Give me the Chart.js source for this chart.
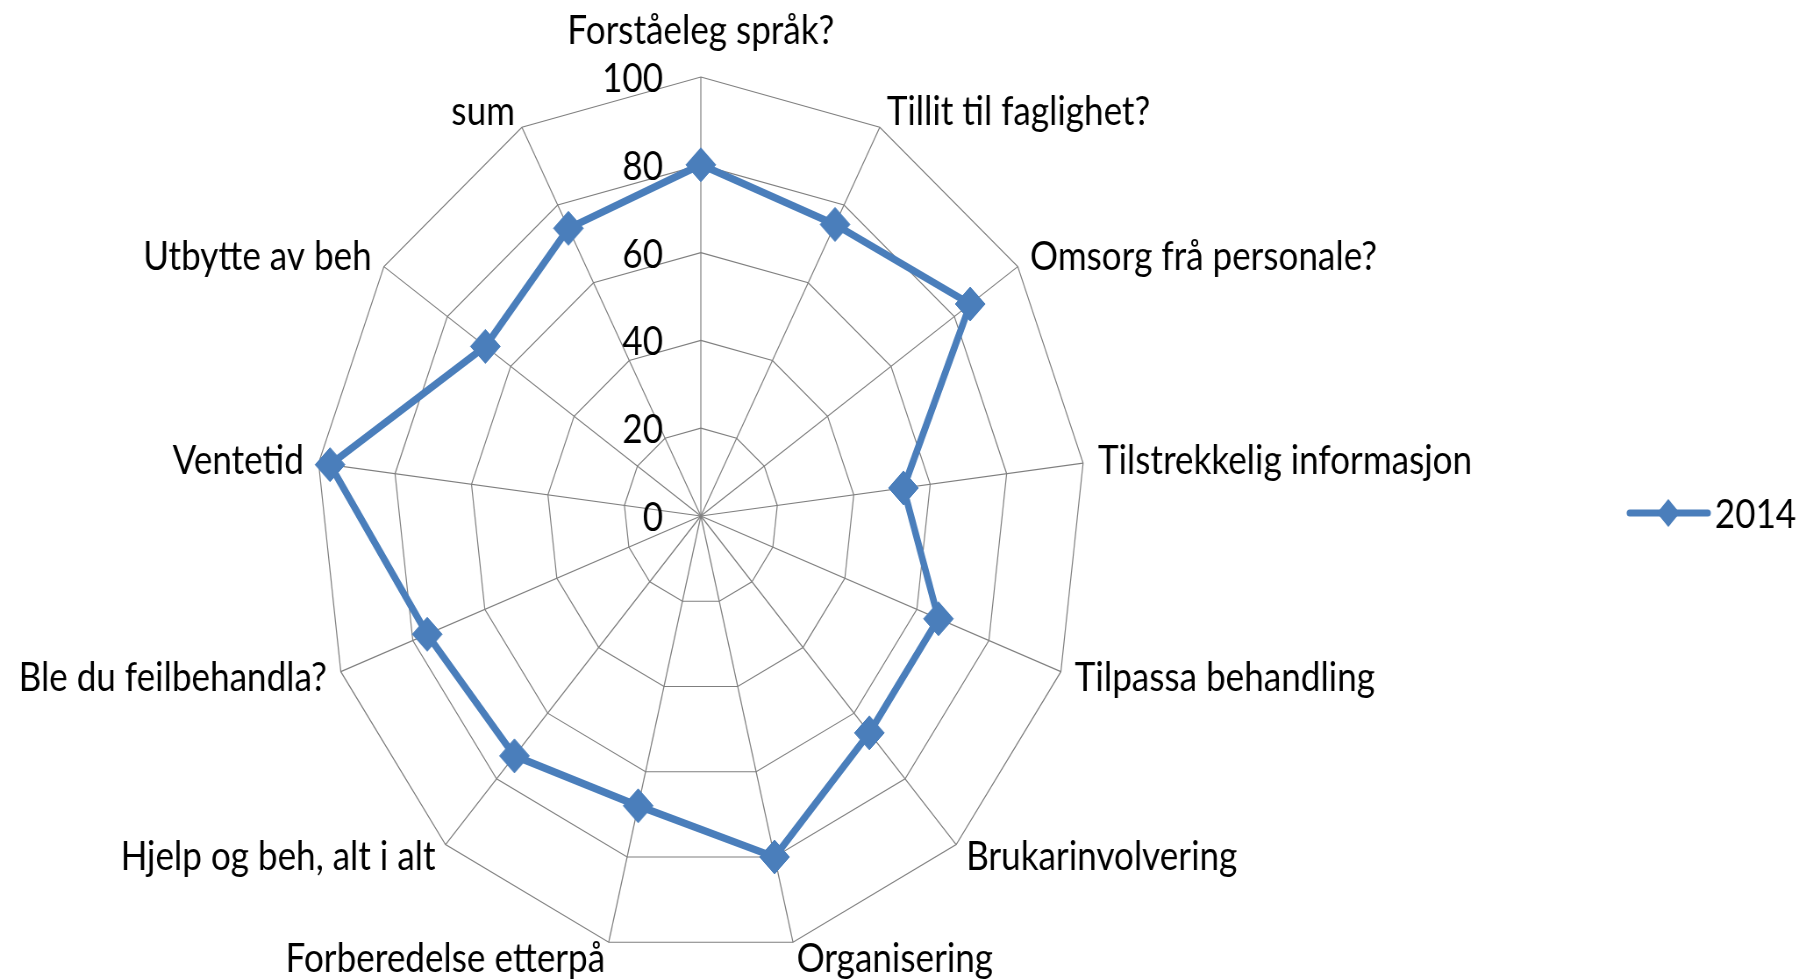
<!DOCTYPE html>
<html>
<head>
<meta charset="utf-8">
<script src="https://cdn.jsdelivr.net/npm/chart.js@4.4.1/dist/chart.umd.min.js"></script>
<style>
  html, body { margin: 0; padding: 0; background: #fff; overflow: hidden; }
  #myChart { display: block; width: 1799px; height: 980px; }
</style>
</head>
<body>
<canvas id="myChart" width="2051" height="980" style="width:1799px;height:980px"></canvas>
<script>
'use strict';

// categories, clockwise from the top
const categories = [
  'Forståeleg språk?',
  'Tillit til faglighet?',
  'Omsorg frå personale?',
  'Tilstrekkelig informasjon',
  'Tilpassa behandling',
  'Brukarinvolvering',
  'Organisering',
  'Forberedelse etterpå',
  'Hjelp og beh, alt i alt',
  'Ble du feilbehandla?',
  'Ventetid',
  'Utbytte av beh',
  'sum'
];
const seriesName = '2014';
const values2014 = [80, 75, 85, 53, 66, 66, 80, 68, 73, 76, 97, 68, 74];
const tickValues = [0, 20, 40, 60, 80, 100];

const blue = '#4A7EBB';
const FONT = '40px Lato, "Open Sans", sans-serif';

// axis texts and the legend, placed from the scale itself
const textPlugin = {
  id: 'texts',
  afterDraw(chart) {
    const scale = chart.scales.r;
    const ctx = chart.ctx;
    ctx.save();
    ctx.font = FONT;
    ctx.fillStyle = '#000';
    ctx.textBaseline = 'middle';

    categories.forEach((text, i) => {
      const p = scale.getPointPosition(i, scale.drawingArea + 17);
      const dx = p.x - scale.xCenter;
      let y = p.y;
      if (Math.abs(dx) < 1) {
        ctx.textAlign = 'center';
        if (p.y < scale.yCenter) y -= 29;
      } else {
        ctx.textAlign = dx > 0 ? 'left' : 'right';
      }
      ctx.fillText(text, p.x, y);
    });

    ctx.textAlign = 'right';
    tickValues.forEach(v => {
      const d = scale.getDistanceFromCenterForValue(v);
      ctx.fillText(String(v), scale.xCenter - 43, scale.yCenter - d + 2);
    });

    // legend
    const ds = chart.data.datasets[0];
    const ly = 513;
    const lx = 1858;
    ctx.strokeStyle = ds.borderColor;
    ctx.lineWidth = 7;
    ctx.lineCap = 'round';
    ctx.beginPath();
    ctx.moveTo(lx, ly);
    ctx.lineTo(lx + 89, ly);
    ctx.stroke();
    ctx.fillStyle = ds.borderColor;
    ctx.beginPath();
    ctx.moveTo(lx + 44, ly - 14);
    ctx.lineTo(lx + 57, ly);
    ctx.lineTo(lx + 44, ly + 14);
    ctx.lineTo(lx + 31, ly);
    ctx.closePath();
    ctx.fill();
    ctx.fillStyle = '#000';
    ctx.textAlign = 'left';
    ctx.fillText(ds.label, lx + 97, ly + 2);
    ctx.restore();
  }
};

const ctx = document.getElementById('myChart').getContext('2d');
const myChart = new Chart(ctx, {
  type: 'radar',
  data: {
    labels: categories,
    datasets: [{
      label: seriesName,
      data: values2014,
      borderColor: blue,
      backgroundColor: 'rgba(0,0,0,0)',
      fill: false,
      borderWidth: 7.5,
      borderJoinStyle: 'round',
      pointStyle: 'rectRot',
      pointRadius: 17,
      pointBackgroundColor: blue,
      pointBorderColor: blue,
      pointBorderWidth: 1
    }]
  },
  options: {
    responsive: false,
    animation: false,
    layout: {
      padding: { top: 77, bottom: 25, left: 0, right: 453 }
    },
    plugins: {
      legend: { display: false },
      tooltip: { enabled: false }
    },
    scales: {
      r: {
        min: 0,
        max: 100,
        ticks: { stepSize: 20, display: false },
        pointLabels: { display: false },
        grid: { color: '#7f7f7f', lineWidth: 1.2 },
        angleLines: { color: '#7f7f7f', lineWidth: 1.2 }
      }
    }
  },
  plugins: [textPlugin]
});
</script>
</body>
</html>
